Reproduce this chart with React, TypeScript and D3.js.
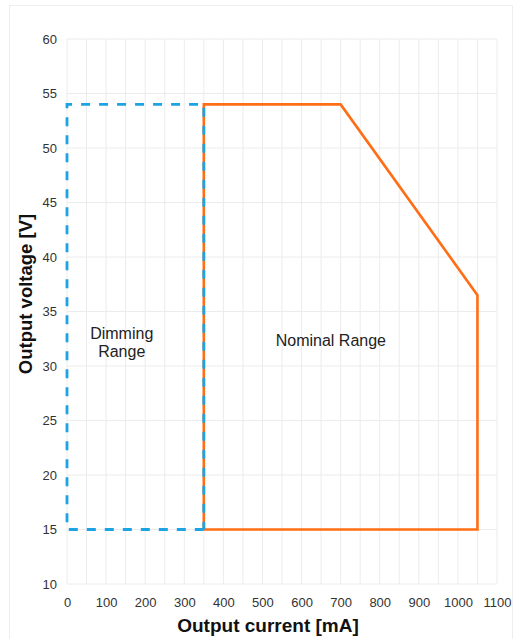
import * as d3 from "d3"
import { useEffect, useRef } from "react"

// operating area, [mA, V]
const nominalRange: Array<[number, number]> = [
  [350, 15],
  [350, 54],
  [700, 54],
  [1050, 36.5],
  [1050, 15],
  [350, 15],
]
const dimmingRange: Array<[number, number]> = [
  [350, 15],
  [0, 15],
  [0, 54],
  [350, 54],
  [350, 15],
]
const xTicks = [0, 100, 200, 300, 400, 500, 600, 700, 800, 900, 1000, 1100]
const yTicks = [10, 15, 20, 25, 30, 35, 40, 45, 50, 55, 60]
const xGrid = d3.range(0, 1101, 50)
const labels = [
  { lines: ["Dimming", "Range"], x: 140, y: 32.5 },
  { lines: ["Nominal Range"], x: 675, y: 31.85 },
]

const WIDTH = 518
const HEIGHT = 639
const MARGIN = { top: 39, right: 21, bottom: 55, left: 67 }

const App = () => {
  const svgRef = useRef<SVGSVGElement>(null)

  useEffect(() => {
    if (!svgRef.current) return
    d3.select(svgRef.current).selectAll("*").remove()

    const svg = d3.select(svgRef.current)

    // outer frame
    svg
      .append("rect")
      .attr("x", 9.5)
      .attr("y", 5.5)
      .attr("width", 503)
      .attr("height", 660)
      .attr("fill", "#fff")
      .attr("stroke", "#eeeeee")

    const xScale = d3
      .scaleLinear()
      .domain([0, 1100])
      .range([MARGIN.left, WIDTH - MARGIN.right])
    const yScale = d3
      .scaleLinear()
      .domain([10, 60])
      .range([HEIGHT - MARGIN.bottom, MARGIN.top])

    // grid
    svg
      .append("g")
      .selectAll("line")
      .data(xGrid)
      .join("line")
      .attr("x1", (d) => xScale(d))
      .attr("x2", (d) => xScale(d))
      .attr("y1", yScale(10))
      .attr("y2", yScale(60))
      .attr("stroke", "#ececec")
      .attr("stroke-width", 1)
    svg
      .append("g")
      .selectAll("line")
      .data(yTicks)
      .join("line")
      .attr("x1", xScale(0))
      .attr("x2", xScale(1100))
      .attr("y1", (d) => yScale(d))
      .attr("y2", (d) => yScale(d))
      .attr("stroke", "#ececec")
      .attr("stroke-width", 1)

    // axes (labels only)
    const xAxis = svg
      .append("g")
      .attr("transform", `translate(0, ${yScale(10)})`)
      .call(
        d3
          .axisBottom(xScale)
          .tickValues(xTicks)
          .tickFormat(d3.format("d"))
          .tickSize(0)
          .tickPadding(14),
      )
    xAxis.select(".domain").remove()
    const yAxis = svg
      .append("g")
      .attr("transform", `translate(${xScale(0)}, 0)`)
      .call(d3.axisLeft(yScale).tickValues(yTicks).tickSize(0).tickPadding(10))
    yAxis.select(".domain").remove()
    svg
      .selectAll(".tick text")
      .attr("font-family", "Liberation Sans, Arial, sans-serif")
      .attr("font-size", "13px")
      .attr("fill", "#333")

    const line = d3
      .line<[number, number]>()
      .x((d) => xScale(d[0]))
      .y((d) => yScale(d[1]))

    svg
      .append("path")
      .datum(nominalRange)
      .attr("fill", "none")
      .attr("stroke", "#ff6d14")
      .attr("stroke-width", 2.6)
      .attr("stroke-linejoin", "miter")
      .attr("d", line)

    svg
      .append("path")
      .datum(dimmingRange)
      .attr("fill", "none")
      .attr("stroke", "#1ba3e3")
      .attr("stroke-width", 2.8)
      .attr("stroke-dasharray", "9,9")
      .attr("d", line)

    // region labels
    labels.forEach((l) => {
      const t = svg
        .append("text")
        .attr("text-anchor", "middle")
        .attr("font-family", "Liberation Sans, Arial, sans-serif")
        .attr("font-size", "16px")
        .attr("fill", "#222")
        .attr("x", xScale(l.x))
        .attr("y", yScale(l.y))
      l.lines.forEach((s, i) => {
        t.append("tspan")
          .attr("x", xScale(l.x))
          .attr("dy", i === 0 ? 0 : 18)
          .text(s)
      })
    })

    // axis titles
    svg
      .append("text")
      .attr("text-anchor", "middle")
      .attr("x", 268)
      .attr("y", 632)
      .attr("font-family", "Liberation Sans, Arial, sans-serif")
      .attr("font-weight", "bold")
      .attr("font-size", "19px")
      .attr("fill", "#111")
      .text("Output current [mA]")
    svg
      .append("text")
      .attr("text-anchor", "middle")
      .attr("transform", "rotate(-90)")
      .attr("x", -294)
      .attr("y", 32)
      .attr("font-family", "Liberation Sans, Arial, sans-serif")
      .attr("font-weight", "bold")
      .attr("font-size", "18.5px")
      .attr("fill", "#111")
      .text("Output voltage [V]")
  }, [])

  return (
    <svg
      ref={svgRef}
      width={WIDTH}
      height={HEIGHT}
      style={{ position: "absolute", top: 0, left: 0, display: "block" }}
    />
  )
}

export default App
